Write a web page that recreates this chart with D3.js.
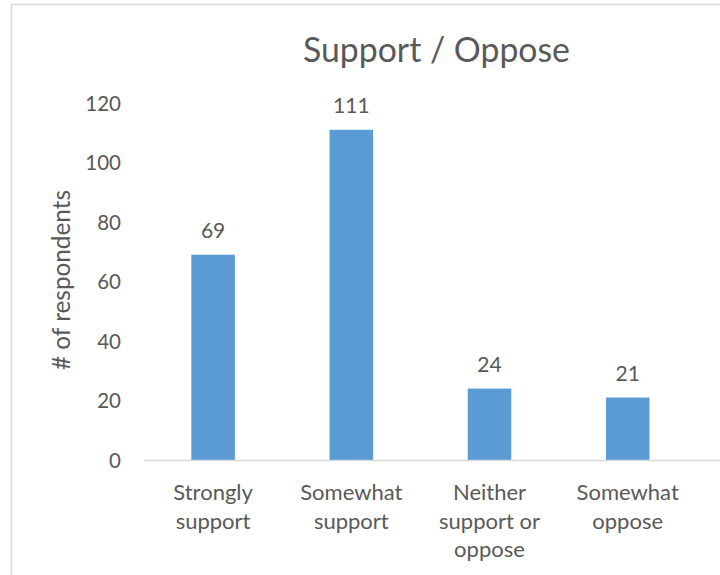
<!DOCTYPE html>
<html>
<head>
<meta charset="utf-8">
<script src="https://cdn.jsdelivr.net/npm/d3@7"></script>
<style>
  html, body { margin: 0; padding: 0; background: #fff; }
  svg { display: block; }
  text { font-family: Lato, "Open Sans", sans-serif; fill: #595959; }
</style>
</head>
<body>
<svg id="chart" width="720" height="575"></svg>
<script>
const categories = [["Strongly", "support"], ["Somewhat", "support"], ["Neither", "support or", "oppose"], ["Somewhat", "oppose"]];
const values = [69, 111, 24, 21];
const yTicks = [0, 20, 40, 60, 80, 100, 120];
const title = "Support / Oppose";
const yTitle = "# of respondents";

const svg = d3.select("#chart");
const W = 720, H = 575;

// chart border
svg.append("rect").attr("x", 11.5).attr("y", 4.5).attr("width", W).attr("height", H)
  .attr("fill", "none").attr("stroke", "#D9D9D9").attr("stroke-width", 1.5);

const plot = { left: 144, top: 103, bottom: 460, width: 552.8 };
const x = d3.scaleBand().domain(d3.range(categories.length)).range([plot.left, plot.left + plot.width]).paddingInner(0.685).paddingOuter(0.3425);
const y = d3.scaleLinear().domain([0, 120]).range([plot.bottom, plot.top]);

function fit(sel, target) {
  const n = sel.node();
  const w = n.getComputedTextLength();
  const fs = parseFloat(sel.attr("font-size"));
  sel.attr("font-size", fs * target / w);
}

// title
const t = svg.append("text").attr("x", 436.5).attr("y", 62).attr("text-anchor", "middle")
  .attr("font-size", 32).text(title);
fit(t, 267);

// y axis
const yAxis = svg.append("g").attr("transform", `translate(${plot.left - 23},0)`)
  .call(d3.axisLeft(y).tickValues(yTicks).tickSize(0).tickPadding(0));
yAxis.select(".domain").remove();
yAxis.selectAll("text").attr("font-size", 20.5).attr("font-family", "Lato, sans-serif").attr("fill", "#595959").attr("dy", "0.36em");

// y title
const yt = svg.append("text").attr("transform", `translate(70,280) rotate(-90)`).attr("text-anchor", "middle")
  .attr("font-size", 21).text(yTitle);
fit(yt, 180);

// bars
svg.append("g").selectAll("rect").data(values).join("rect")
  .attr("x", (d, i) => x(i)).attr("width", x.bandwidth())
  .attr("y", d => y(d)).attr("height", d => y(0) - y(d))
  .attr("fill", "#5B9BD5");

// value labels
svg.append("g").selectAll("text").data(values).join("text")
  .attr("x", (d, i) => x(i) + x.bandwidth() / 2).attr("y", d => y(d) - 17)
  .attr("text-anchor", "middle").attr("font-size", 21).text(d => d);

// x axis line
svg.append("line").attr("x1", plot.left).attr("x2", W).attr("y1", plot.bottom + 0.5).attr("y2", plot.bottom + 0.5)
  .attr("stroke", "#D9D9D9").attr("stroke-width", 1.5);

// category labels
const cg = svg.append("g").selectAll("text").data(categories).join("text")
  .attr("x", (d, i) => x(i) + x.bandwidth() / 2).attr("y", 500)
  .attr("text-anchor", "middle").attr("font-size", 22).text(null);
cg.selectAll("tspan").data(d => d).join("tspan")
  .attr("x", function() { return d3.select(this.parentNode).attr("x"); })
  .attr("dy", (d, i) => i === 0 ? 0 : 28.5).text(d => d);
</script>
</body>
</html>
